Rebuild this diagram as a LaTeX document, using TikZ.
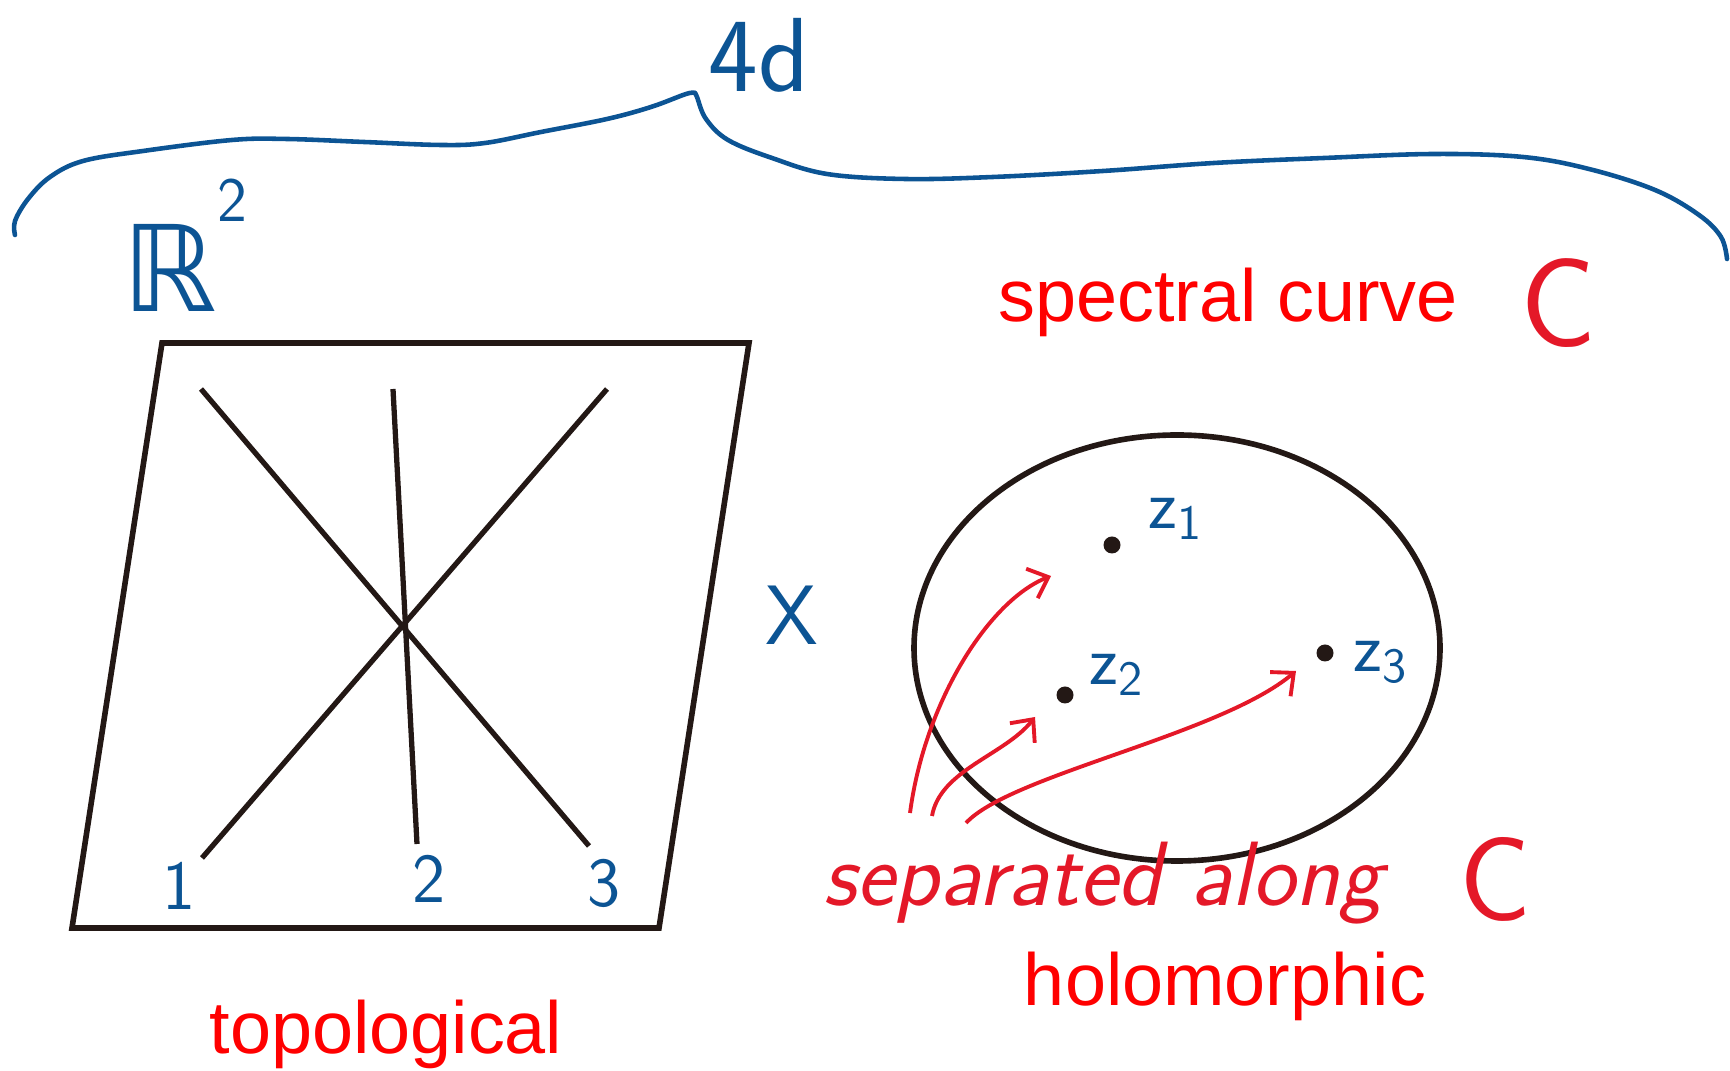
\documentclass[tikz,border=0pt]{standalone}
\usepackage{fontspec}
\setmainfont{Liberation Sans}
\newfontfamily\penR{DejaVu Sans}
\usetikzlibrary{arrows.meta, positioning, shapes.geometric}
\definecolor{clrInk} {RGB}{ 35, 24, 21}
\definecolor{clrPen} {RGB}{ 12, 84,148}
\definecolor{clrTxt} {RGB}{255,  0,  0}
\definecolor{clrMark}{RGB}{228, 24, 40}
\tikzset{
  sheet/.style={draw=clrInk, line width=1.6pt},
  strand/.style={draw=clrInk, line width=1.5pt},
  pen/.style={draw=clrPen, line width=1.3pt, line cap=round},
  hand/.style={text=clrPen, font=\fontsize{20}{24}\selectfont\sffamily, inner sep=1pt},
  redlbl/.style={text=clrTxt, font=\fontsize{21}{25}\selectfont, inner sep=0pt},
  marker/.style={text=clrMark, font=\fontsize{26}{30}\selectfont\sffamily\itshape, inner sep=0pt},
  sparr/.style={-{Straight Barb[length=5pt,width=9pt]}, draw=clrMark, line width=1.1pt},
  dotpt/.style={circle, fill=clrInk, inner sep=0pt, minimum size=1.7mm},
}

\begin{document}
\begin{tikzpicture}[x=0.1mm,y=-0.1mm]
\useasboundingbox (0,0) rectangle (1730,1071);
% brace over both sides
\draw[pen] plot[smooth, tension=0.6] coordinates {(15,235) (15,221) (28,199) (50,177) (83,161)
  (143,151) (232,140) (287,139) (364,142) (441,145) (485,143) (541,132) (607,119) (651,107) (686,94) (695,93)};
\draw[pen] plot[smooth, tension=0.6] coordinates {(695,93) (697,97) (706,119) (728,140) (772,158) (827,174)
  (905,179) (993,177) (1103,171) (1214,163) (1324,158) (1434,154) (1523,157) (1589,169) (1655,190) (1699,215) (1721,237) (1727,259)};
\node[hand, font=\fontsize{30}{34}\selectfont\sffamily] (fourd) at (759,55) {4d};
\node[hand, font=\fontsize{34}{38}\selectfont\penR] (rtwo) at (185,245)
  {ℝ\raisebox{0.75em}{\fontsize{18}{20}\selectfont\sffamily 2}};
\node[hand, font=\fontsize{24}{28}\selectfont\sffamily] (xlbl) at (792,615) {X};

% topological side
\draw[sheet] (162,343) -- (749,343) -- (659,928) -- (72,928) -- cycle;
\draw[strand] (201,389) -- (589,846);
\draw[strand] (393,389) -- (417,844);
\draw[strand] (607,389) -- (202,858);
\node[hand] (one)   at (179,886) {1};
\node[hand] (two)   at (429,879) {2};
\node[hand] (three) at (604,883) {3};
\node[redlbl, anchor=base] (topo) at (386,1054) {topological};

% holomorphic side
\node[redlbl, anchor=base] (spec) at (1228,322) {spectral curve};
\node[marker, font=\fontsize{36}{40}\selectfont\sffamily] (cspec) at (1559,303) {C};
\node[draw=clrInk, line width=1.6pt, ellipse, minimum width=52.6mm, minimum height=42.6mm] (curveC) at (1177,648) {};
\node[dotpt] (z1) at (1112,545) {};
\node[dotpt] (z2) at (1065,695) {};
\node[dotpt] (z3) at (1325,653) {};
\node[hand] (z1l) at (1176,519) {z\textsubscript{1}};
\node[hand] (z2l) at (1117,675) {z\textsubscript{2}};
\node[hand] (z3l) at (1381,662) {z\textsubscript{3}};
\coordinate (a1s) at (910,813);
\coordinate (a2s) at (932,816);
\coordinate (a3s) at (966,823);
\coordinate (a1e) at (1051,576);
\coordinate (a2e) at (1035,717);
\coordinate (a3e) at (1296,671);
\draw[sparr] (a1s) .. controls (925,700) and (990,600) .. (a1e);
\draw[sparr] (a2s) .. controls (940,770) and (1005,755) .. (a2e);
\draw[sparr] (a3s) .. controls (1010,775) and (1220,735) .. (a3e);
\node[marker] (sepd) at (1103,883) {separated along};
\node[marker, font=\fontsize{34}{38}\selectfont\sffamily] (csep) at (1495,879) {C};
\node[redlbl, anchor=base] (holo) at (1225,1006) {holomorphic};
\end{tikzpicture}
\end{document}
